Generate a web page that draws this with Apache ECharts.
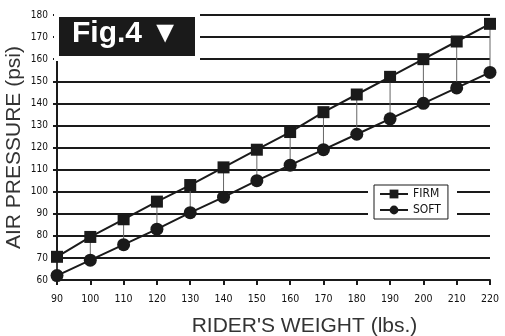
<!DOCTYPE html>
<html><head><meta charset="utf-8">
<script src="https://cdn.jsdelivr.net/npm/echarts@6/dist/echarts.min.js"></script>
<style>html,body{margin:0;padding:0;background:#fff}#c{width:505px;height:336px}</style>
</head><body><div id="c"></div>
<script>
var weights = [90,100,110,120,130,140,150,160,170,180,190,200,210,220];
var firm = [70.5,79.5,87.5,95.5,103,111,119,127,136,144,152,160,168,176];
var soft = [62,69,76,83,90.5,97.5,105,112,119,126,133,140,147,154];
var seriesNames = ['FIRM','SOFT'];
var titleText = 'Fig.4 \u25BC';
var xTitle = "RIDER'S WEIGHT (lbs.)";
var yTitle = 'AIR PRESSURE (psi)';

var firmData = weights.map(function(w,i){return [w, firm[i]];});
var softData = weights.map(function(w,i){return [w, soft[i]];});
var linkData = weights.map(function(w,i){return [w, soft[i], firm[i]];});

var condensed = '"DejaVu Sans Condensed", "Liberation Sans", sans-serif';
var chart = echarts.init(document.getElementById('c'), null, {renderer:'canvas'});
chart.setOption({
  animation:false,
  grid:{left:57,right:15,top:15,bottom:56,containLabel:false,outerBoundsMode:'none'},
  xAxis:{type:'value',min:90,max:220,interval:10,
    name:xTitle,nameLocation:'middle',nameGap:36,nameMoveOverlap:false,
    nameTextStyle:{fontFamily:'Liberation Sans',fontSize:21,color:'#333',padding:[0,0,0,62]},
    axisLine:{show:true,lineStyle:{color:'#1a1a1a',width:2}},
    axisTick:{show:true,length:5,lineStyle:{color:'#1a1a1a',width:2}},
    axisLabel:{margin:14,fontFamily:condensed,fontSize:10.5,color:'#111'},
    splitLine:{show:false}},
  yAxis:{type:'value',min:60,max:180,interval:10,
    name:yTitle,nameLocation:'middle',nameGap:32,nameMoveOverlap:false,
    nameTextStyle:{fontFamily:'Liberation Sans',fontSize:21,color:'#333'},
    axisLine:{show:true,lineStyle:{color:'#1a1a1a',width:2}},
    axisTick:{show:true,length:4,lineStyle:{color:'#1a1a1a',width:2}},
    axisLabel:{margin:9,fontFamily:condensed,fontSize:10,color:'#111'},
    splitLine:{show:true,lineStyle:{color:'#1a1a1a',width:2}}},
  legend:{data:seriesNames,orient:'vertical',left:374,top:185,z:10,
    itemWidth:28,itemHeight:11,itemGap:4,padding:[3,7,3,5],
    backgroundColor:'#fff',borderColor:'#1a1a1a',borderWidth:1,
    textStyle:{fontFamily:condensed,fontSize:12,color:'#111'}},
  graphic:{elements:[
    {type:'rect',z:5,shape:{x:54,y:0,width:146,height:61},style:{fill:'#fff'}},
    {type:'rect',z:6,shape:{x:59,y:17,width:136,height:39},style:{fill:'#1a1a1a'}},
    {type:'text',z:7,left:72,top:19,style:{text:titleText,fill:'#fff',font:'bold 30px "Liberation Sans"'}},
    {type:'rect',z:5,shape:{x:368,y:181,width:89,height:45},style:{fill:'#fff'}}
  ]},
  series:[
    {type:'custom',z:1,silent:true,data:linkData,
      renderItem:function(params,api){
        var p1=api.coord([api.value(0),api.value(1)]);
        var p2=api.coord([api.value(0),api.value(2)]);
        return {type:'line',shape:{x1:p1[0],y1:p1[1],x2:p2[0],y2:p2[1]},style:{stroke:'#666',lineWidth:1}};
      }},
    {name:'FIRM',type:'line',data:firmData,symbol:'rect',symbolSize:12,z:3,
      lineStyle:{color:'#1a1a1a',width:2},itemStyle:{color:'#1a1a1a'}},
    {name:'SOFT',type:'line',data:softData,symbol:'circle',symbolSize:13,z:3,
      lineStyle:{color:'#1a1a1a',width:2},itemStyle:{color:'#1a1a1a'}}
  ]
});
</script></body></html>
